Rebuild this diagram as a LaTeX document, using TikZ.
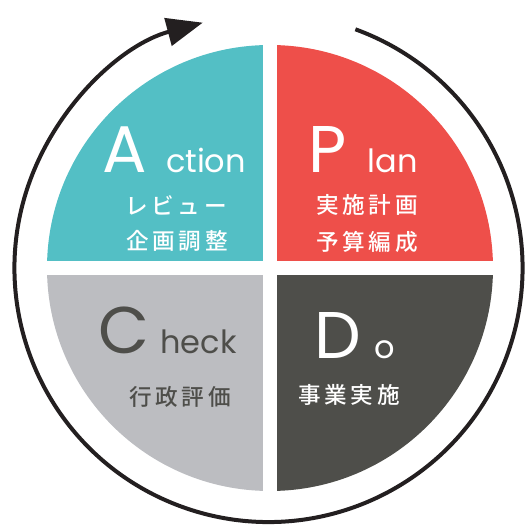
\documentclass[tikz,border=0pt]{standalone}
\usepackage{fontspec}
\setmainfont{Poppins}
\newfontfamily\jpfont[UprightFont={* Medium}, LetterSpace=16]{Noto Sans CJK JP}
\usepackage{tikz}
\usetikzlibrary{arrows.meta, positioning}
\definecolor{actionTeal}{HTML}{53BFC5}
\definecolor{planRed}{HTML}{EE4F4A}
\definecolor{checkGray}{HTML}{BCBDC1}
\definecolor{doDark}{HTML}{4E4E4A}
\definecolor{ringBlack}{HTML}{231F20}
\tikzstyle{bigletter} = [inner sep=0pt, font=\fontsize{33}{33}\selectfont]
\tikzstyle{restword} = [inner sep=0pt, font=\fontsize{16}{16}\selectfont]
\tikzstyle{jpline} = [inner sep=0pt, font=\jpfont\fontsize{11.3}{11.3}\selectfont]
\tikzset{
	ring/.style = {ringBlack, line width=2pt, -{Triangle[length=18pt, width=14pt]}},
}

\begin{document}
\begin{tikzpicture}[x=0.5pt, y=0.5pt]
\useasboundingbox (-270,-261) rectangle (255,268);
%----------------------------------------------------------------------------
% Quarter discs
\begin{scope}
\clip (0,0) circle (223);
\fill[actionTeal] (-7,7) rectangle (-230,230);
\fill[planRed] (7,7) rectangle (230,230);
\fill[checkGray] (-7,-7) rectangle (-230,-230);
\fill[doDark] (7,-7) rectangle (230,-230);
\end{scope}

% cycle ring
\draw[ring] ([shift={(-1.5,0)}]70:254) arc[start angle=70, end angle=-255, radius=254];

%----------------------------------------------------------------------------
% Action
\node (actA) [bigletter, white, anchor=base] at (-145,95) {A};
\node (actRest) [restword, white, base right=9pt of actA] {ction};
\node (actJa) [jpline, white] at (-94,63) {レビュー};
\node (actJb) [jpline, white] at (-93,27) {企画調整};

% Plan
\node (planP) [bigletter, white, anchor=base] at (58,95) {P};
\node (planRest) [restword, white, base right=10pt of planP] {lan};
\node (planJa) [jpline, white] at (97,63) {実施計画};
\node (planJb) [jpline, white] at (97,26) {予算編成};

% Check
\node (checkC) [bigletter, doDark, anchor=base] at (-146,-86) {C};
\node (checkRest) [restword, doDark, base right=5pt of checkC] {heck};
\node (checkJ) [jpline, doDark] at (-90,-129) {行政評価};

% Do
\node (doD) [bigletter, white, anchor=base] at (68,-91) {D};
\node (doRest) [restword, white, base right=6pt of doD] {o};
\node (doJ) [jpline, white] at (79,-127) {事業実施};

\end{tikzpicture}
\end{document}
